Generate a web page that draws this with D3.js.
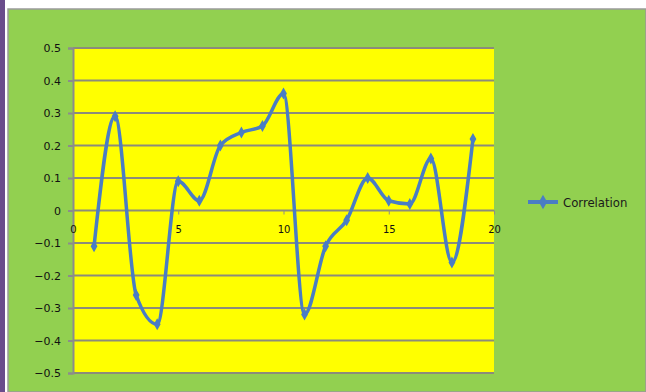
<!DOCTYPE html>
<html>
<head>
<meta charset="utf-8">
<script src="https://cdn.jsdelivr.net/npm/d3@7"></script>
<style>
  body { margin: 0; background: #fff; }
  svg { display: block; }
  .tick text { font-family: "DejaVu Sans", sans-serif; font-size: 11px; fill: #111; }
</style>
</head>
<body>
<div id="chart"></div>
<script>
// data
var xs = [1, 2, 3, 4, 5, 6, 7, 8, 9, 10, 11, 12, 13, 14, 15, 16, 17, 18, 19];
var correlation = [-0.11, 0.29, -0.26, -0.35, 0.09, 0.03, 0.2, 0.24, 0.26, 0.36,
                   -0.32, -0.11, -0.03, 0.1, 0.03, 0.02, 0.16, -0.16, 0.22];
var xTicks = [0, 5, 10, 15, 20];
var yTicks = [-0.5, -0.4, -0.3, -0.2, -0.1, 0, 0.1, 0.2, 0.3, 0.4, 0.5];
var seriesName = 'Correlation';

var W = 646, H = 392;
var plot = {left: 73, top: 48, right: 494, bottom: 373};
var lineColor = '#4a7dc4';

var svg = d3.select('#chart').append('svg')
    .attr('width', W)
    .attr('height', H);

// frame: purple strip, white gap, green chart area
svg.append('rect').attr('x', 0).attr('y', 0).attr('width', 5).attr('height', H).attr('fill', '#6a4c8c');
svg.append('rect').attr('x', 8).attr('y', 9).attr('width', W - 8).attr('height', H - 9)
    .attr('fill', '#92d050').attr('stroke', '#9a9a9a').attr('stroke-width', 1.5);

var xScale = d3.scaleLinear().domain([0, 20]).range([plot.left, plot.right]);
var yScale = d3.scaleLinear().domain([-0.5, 0.5]).range([plot.bottom, plot.top]);

// yellow plot area
svg.append('rect')
    .attr('x', plot.left).attr('y', plot.top)
    .attr('width', plot.right - plot.left).attr('height', plot.bottom - plot.top)
    .attr('fill', '#ffff00');

// gridlines
svg.append('g').selectAll('line')
    .data(yTicks)
    .join('line')
    .attr('x1', plot.left).attr('x2', plot.right)
    .attr('y1', d => yScale(d)).attr('y2', d => yScale(d))
    .attr('stroke', '#8c8c7a').attr('stroke-width', 2);

// y axis
var yAxis = d3.axisLeft(yScale).tickValues(yTicks).tickSize(5).tickPadding(7)
    .tickFormat(d => d === 0 ? '0' : d3.format('.1f')(d));
var gy = svg.append('g').attr('transform', 'translate(' + plot.left + ',0)').call(yAxis);
gy.select('.domain').attr('stroke', '#8c8c8c').attr('stroke-width', 2);
gy.selectAll('.tick line').attr('stroke', '#8c8c8c').attr('stroke-width', 2);

// x axis crossing at 0, labels just below
var xAxis = d3.axisBottom(xScale).tickValues(xTicks).tickSize(4).tickPadding(11);
var gx = svg.append('g').attr('transform', 'translate(0,' + yScale(0) + ')').call(xAxis);
gx.select('.domain').remove();
gx.selectAll('.tick line').attr('stroke', '#8c8c8c');
gx.selectAll('.tick text').style('font-size', '10px');

// smoothed line
var line = d3.line()
    .x((d, i) => xScale(xs[i]))
    .y(d => yScale(d))
    .curve(d3.curveMonotoneX);

svg.append('path')
    .datum(correlation)
    .attr('fill', 'none')
    .attr('stroke', lineColor)
    .attr('stroke-width', 3.5)
    .attr('stroke-linejoin', 'round')
    .attr('d', line);

var diamond = d3.symbol().type(d3.symbolDiamond).size(40);
svg.append('g').selectAll('path')
    .data(correlation)
    .join('path')
    .attr('transform', (d, i) => 'translate(' + xScale(xs[i]) + ',' + yScale(d) + ')')
    .attr('d', diamond)
    .attr('fill', lineColor);

// legend
var lg = svg.append('g').attr('transform', 'translate(528,202)');
lg.append('line').attr('x1', 0).attr('x2', 30).attr('y1', 0).attr('y2', 0)
    .attr('stroke', lineColor).attr('stroke-width', 4);
lg.append('path').attr('transform', 'translate(15,0)').attr('d', d3.symbol().type(d3.symbolDiamond).size(60)).attr('fill', lineColor);
lg.append('text')
    .attr('x', 35).attr('y', 0).attr('dy', '0.35em')
    .style('font-family', '"Liberation Sans Narrow", "DejaVu Sans Condensed", sans-serif')
    .style('font-size', '13px')
    .attr('fill', '#1a1a1a')
    .text(seriesName);
</script>
</body>
</html>
